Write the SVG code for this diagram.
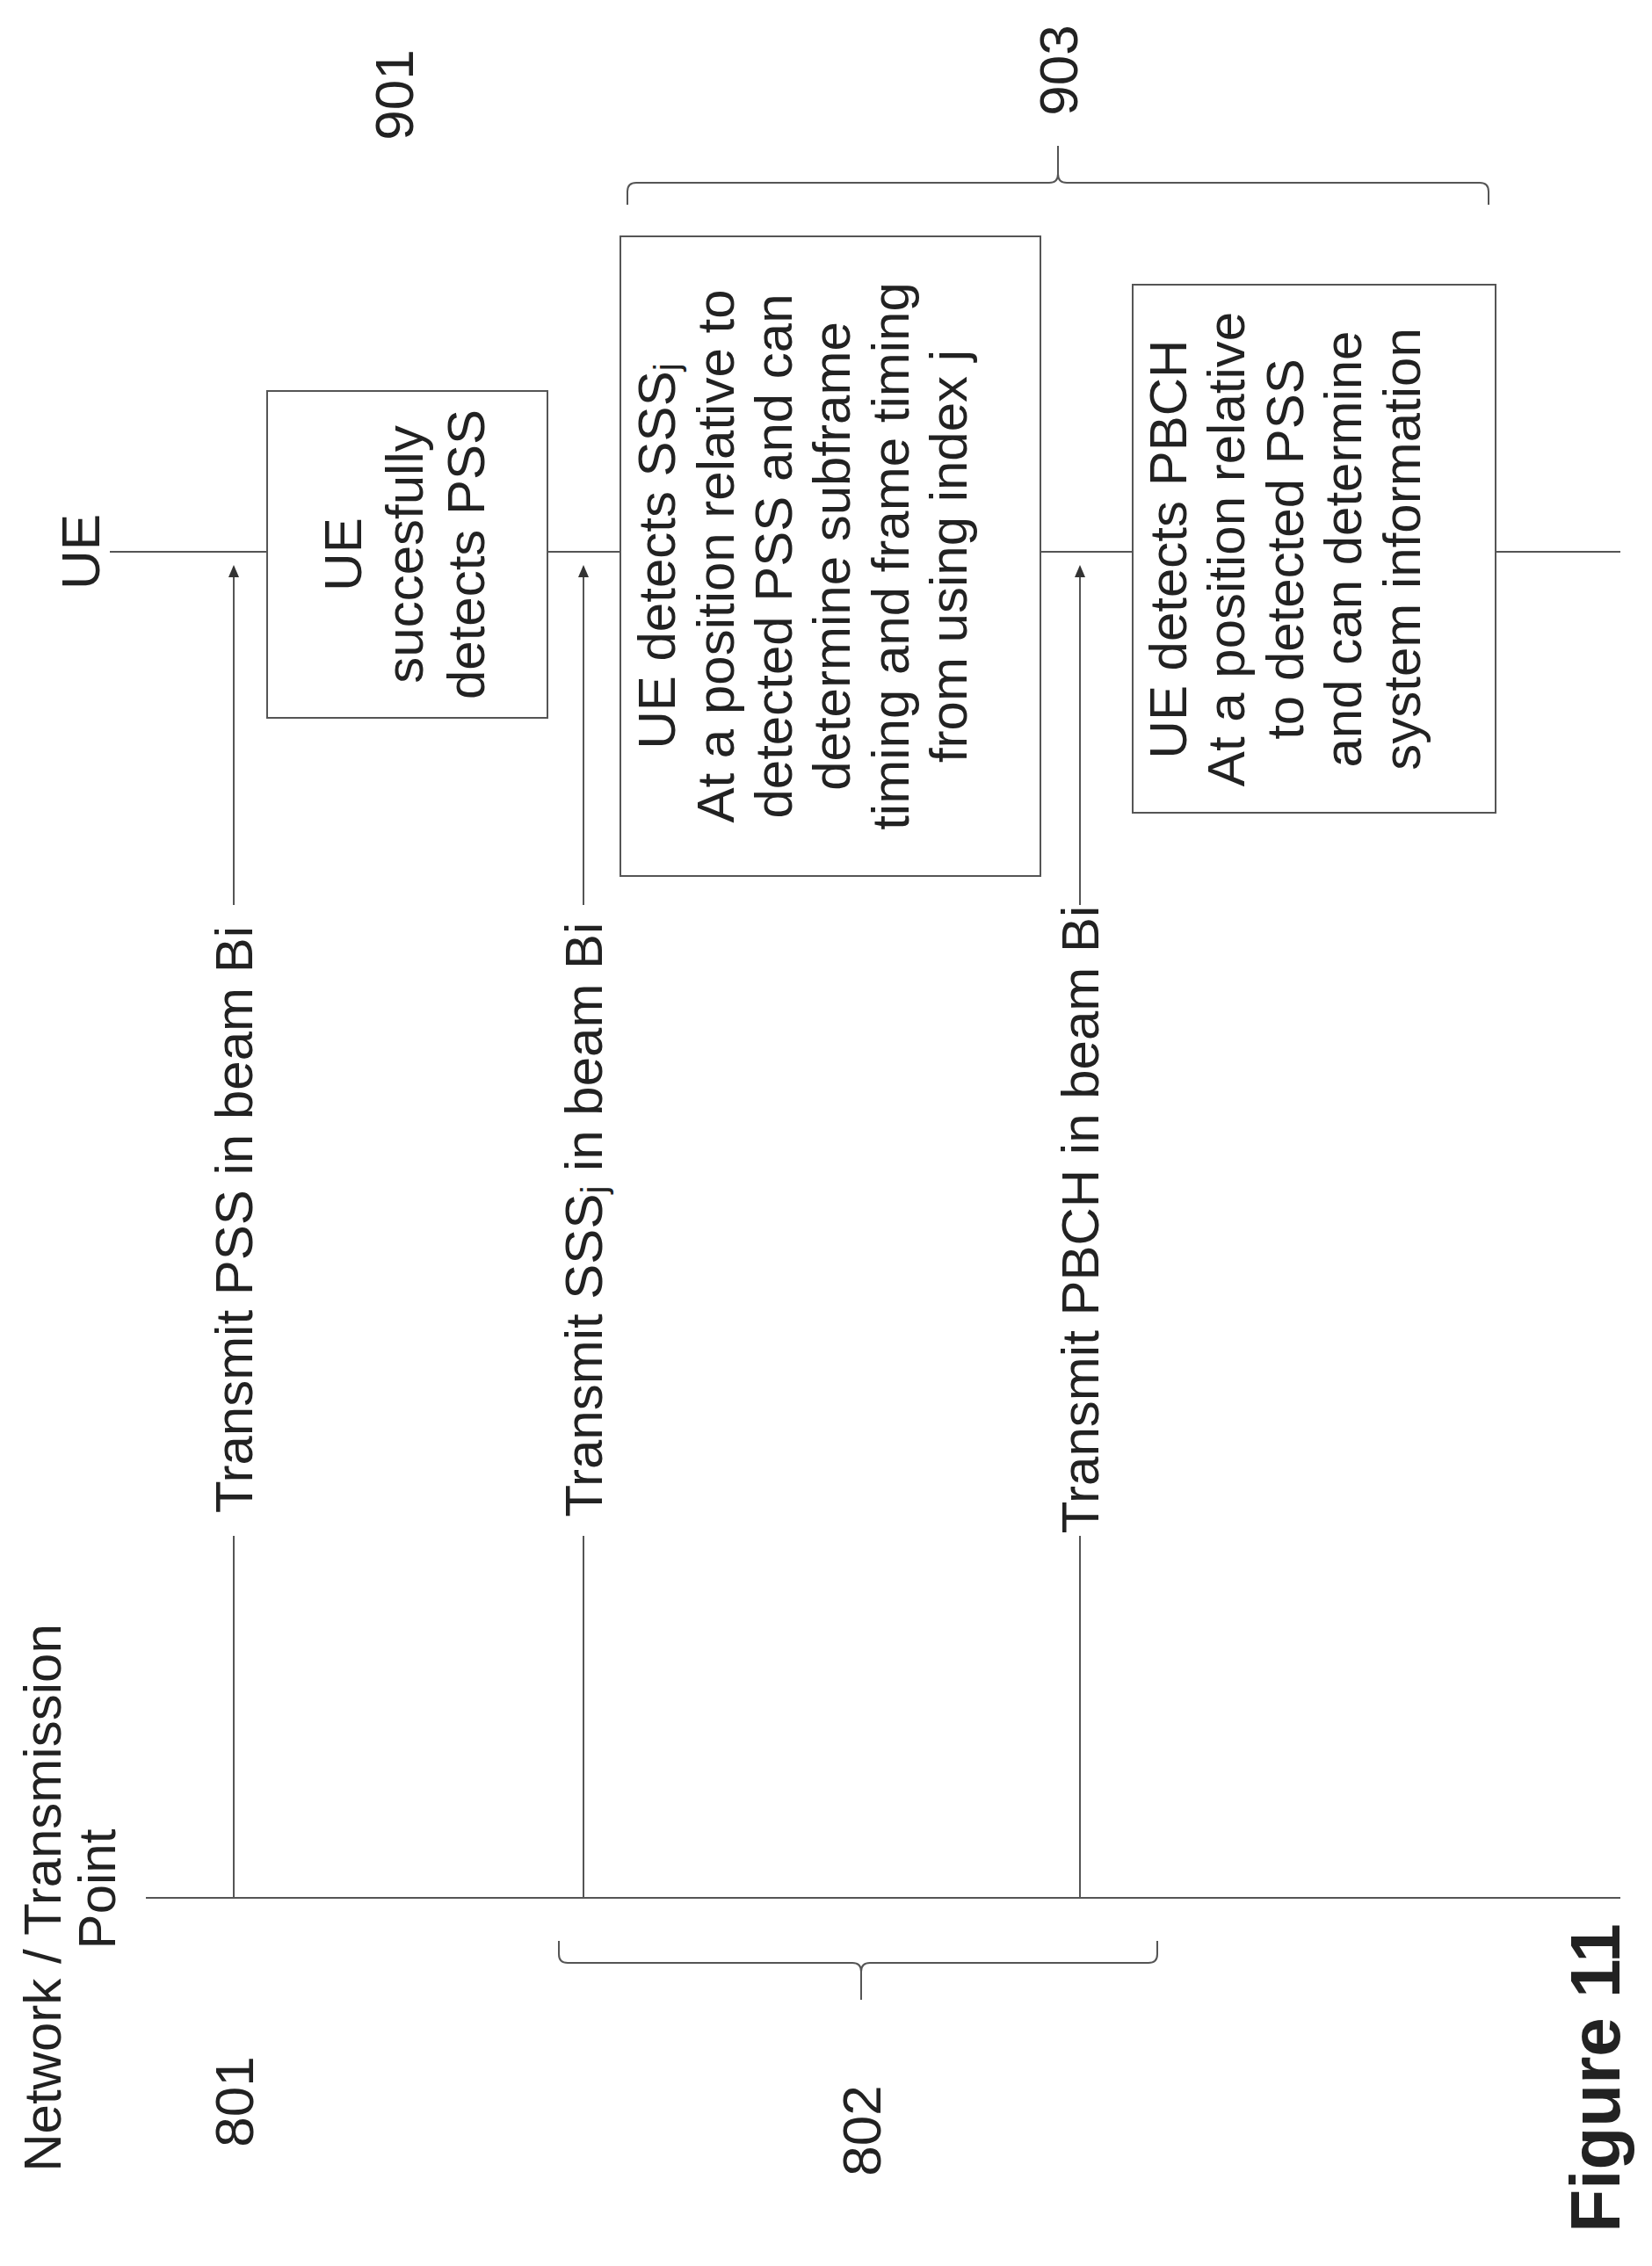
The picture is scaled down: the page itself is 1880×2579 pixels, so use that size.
<svg xmlns="http://www.w3.org/2000/svg" width="1880" height="2579" viewBox="0 0 1880 2579">
<style>
text{font-family:"Liberation Sans",Arial,sans-serif;font-size:60px;fill:#222;text-anchor:middle;dominant-baseline:central}
.ln{stroke:#555;stroke-width:2;fill:none}
.box{stroke:#555;stroke-width:2;fill:#fff}
.big{font-size:62px}
.fig{font-size:80px;font-weight:bold}
</style>
<defs>
<marker id="ah" markerWidth="12" markerHeight="14" refX="6" refY="2" orient="0" markerUnits="userSpaceOnUse">
<path d="M0,14 L6,0 L12,14 Z" fill="#333"/>
</marker>
</defs>
<rect width="1880" height="2579" fill="#fff"/>
<g id="lifelines">
<line class="ln" x1="125" y1="628" x2="304" y2="628"/>
<line class="ln" x1="623" y1="628" x2="706" y2="628"/>
<line class="ln" x1="1184" y1="628" x2="1289" y2="628"/>
<line class="ln" x1="1702" y1="628" x2="1844" y2="628"/>
<line class="ln" x1="166" y1="2160" x2="1844" y2="2160"/>
</g>
<g id="connectors">
<line class="ln" x1="266" y1="2160" x2="266" y2="1748"/>
<line class="ln" x1="266" y1="1030" x2="266" y2="645" marker-end="url(#ah)"/>
<line class="ln" x1="664" y1="2160" x2="664" y2="1748"/>
<line class="ln" x1="664" y1="1030" x2="664" y2="645" marker-end="url(#ah)"/>
<line class="ln" x1="1229" y1="2160" x2="1229" y2="1748"/>
<line class="ln" x1="1229" y1="1030" x2="1229" y2="645" marker-end="url(#ah)"/>
<text transform="translate(266,1388) rotate(-90)">Transmit PSS in beam Bi</text>
<text transform="translate(664,1388) rotate(-90)">Transmit SSS<tspan font-size="40" dy="12">j</tspan><tspan dy="-12"> in beam Bi</tspan></text>
<text transform="translate(1229,1388) rotate(-90)">Transmit PBCH in beam Bi</text>
</g>
<g id="labels">
<text class="big" transform="translate(91,628) rotate(-90)">UE</text>
<text transform="translate(48,2160) rotate(-90)">Network / Transmission</text>
<text transform="translate(110,2150) rotate(-90)">Point</text>
<text class="big" transform="translate(448,108) rotate(-90)">901</text>
<text class="big" transform="translate(1204,80) rotate(-90)">903</text>
<text class="big" transform="translate(266,2392) rotate(-90)">801</text>
<text class="big" transform="translate(980,2425) rotate(-90)">802</text>
<text class="fig" transform="translate(1815,2365) rotate(-90)">Figure 11</text>
</g>
<g id="brace903">
<path class="ln" d="M714,233 L714,218 Q714,208 724,208 L1194,208 Q1204,208 1204,198 L1204,166 M1204,198 Q1204,208 1214,208 L1684,208 Q1694,208 1694,218 L1694,233"/>
</g>
<g id="brace802">
<path class="ln" d="M636,2209 L636,2224 Q636,2234 646,2234 L970,2234 Q980,2234 980,2244 L980,2276 M980,2244 Q980,2234 990,2234 L1307,2234 Q1317,2234 1317,2224 L1317,2209"/>
</g>
<g id="node901">
<rect class="box" x="304" y="445" width="319" height="372"/>
<text transform="translate(390,631) rotate(-90)">UE</text>
<text transform="translate(460,631) rotate(-90)">succesfully</text>
<text transform="translate(530,631) rotate(-90)">detects PSS</text>
</g>
<g id="nodeSSS">
<rect class="box" x="706" y="269" width="478" height="728"/>
<text transform="translate(747,633) rotate(-90)">UE detects SSS<tspan font-size="40" dy="12">j</tspan></text>
<text transform="translate(814,633) rotate(-90)">At a position relative to</text>
<text transform="translate(880,633) rotate(-90)">detected PSS and can</text>
<text transform="translate(946,633) rotate(-90)">determine subframe</text>
<text transform="translate(1013,633) rotate(-90)">timing and frame timing</text>
<text transform="translate(1079,633) rotate(-90)">from  using index j</text>
</g>
<g id="nodePBCH">
<rect class="box" x="1289" y="324" width="413" height="601"/>
<text transform="translate(1329,625) rotate(-90)">UE detects PBCH</text>
<text transform="translate(1395,625) rotate(-90)">At a position relative</text>
<text transform="translate(1462,625) rotate(-90)">to detected PSS</text>
<text transform="translate(1528,625) rotate(-90)">and can determine</text>
<text transform="translate(1595,625) rotate(-90)">system information</text>
</g>
</svg>
